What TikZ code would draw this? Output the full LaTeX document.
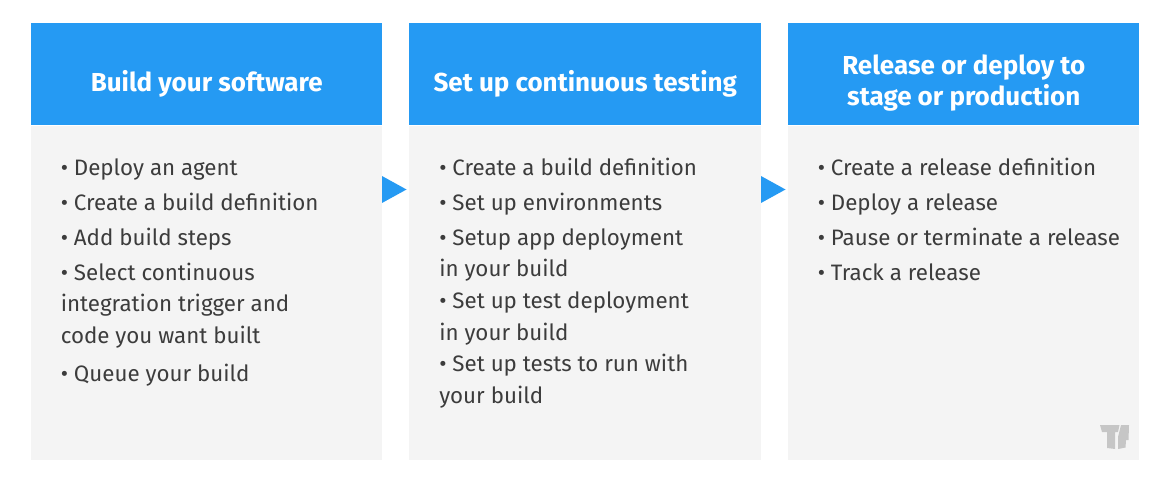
\documentclass[tikz,border=0pt]{standalone}
\usepackage{fontspec}
\setmainfont{Fira Sans}
\usetikzlibrary{positioning}
\definecolor{headblue}{HTML}{259AF3}
\definecolor{bodygray}{HTML}{F4F4F4}
\definecolor{bodytext}{HTML}{3C3C3C}
\definecolor{logogray}{HTML}{C6C6C6}
\tikzset{
  head/.style={fill=headblue, minimum width=263.25pt, minimum height=76.5pt, inner sep=0pt, anchor=north west},
  title/.style={text=white, inner sep=0pt, align=center, yshift=-6.6pt, font=\fontsize{19.5}{23.2}\selectfont\bfseries},
  panel/.style={fill=bodygray, minimum width=263.25pt, minimum height=250.5pt, inner sep=0pt, below=0pt of #1},
  items/.style={text=bodytext, anchor=north west, inner sep=0pt, align=left, font=\fontsize{16.75}{23.6}\selectfont},
}
\begin{document}
\begin{tikzpicture}[x=0.75pt, y=0.75pt]
\useasboundingbox (0,0) rectangle (1170,-491);
% headers
\node[head] (build) at (31,-23) {};
\node[head, minimum width=264pt] (testing) at (409,-23) {};
\node[head] (release) at (788,-23) {};
\node[title, yshift=-0.6pt] (buildtitle) at (build) {Build your software};
\node[title, yshift=-0.6pt] (testingtitle) at (testing) {Set up continuous testing};
\node[title] (releasetitle) at (release) {Release or deploy to\\stage or production};
% bodies
\node[panel=build] (buildbody) {};
\node[panel=testing, minimum width=264pt] (testingbody) {};
\node[panel=release] (releasebody) {};
% lists
\node[items] (buildlist) at (60.5,-158.5) {• Deploy an agent\\[2.6pt]
• Create a build definition\\[2.6pt]
• Add build steps\\[2.6pt]
• Select continuous\\
integration trigger and\\
code you want built\\[5pt]
• Queue your build};
\node[items] (testinglist) at (439,-157.5) {• Create a build definition\\[2.6pt]
• Set up environments\\[2.6pt]
• Setup app deployment\\
in your build\\[0.75pt]
• Set up test deployment\\
in your build\\
• Set up tests to run with\\
your build};
\node[items] (releaselist) at (817.5,-157.5) {• Create a release definition\\[2.6pt]
• Deploy a release\\[2.6pt]
• Pause or terminate a release\\[3.3pt]
• Track a release};
% arrows
\foreach \x in {382,761}
  \fill[headblue] (\x,-176) -- (\x+24.5,-189.5) -- (\x,-203) -- cycle;
% logo
\fill[logogray] (1100,-425) -- (1119.5,-425) -- (1118,-432) -- (1115,-432) -- (1115,-449) -- (1107,-448) -- (1107,-432) -- (1102,-432) -- cycle;
\fill[logogray] (1121,-425) -- (1129,-425) -- (1128.5,-440) -- (1126,-440) -- (1125.5,-447.5) -- (1118,-449) -- (1118,-437) -- cycle;
\end{tikzpicture}
\end{document}
